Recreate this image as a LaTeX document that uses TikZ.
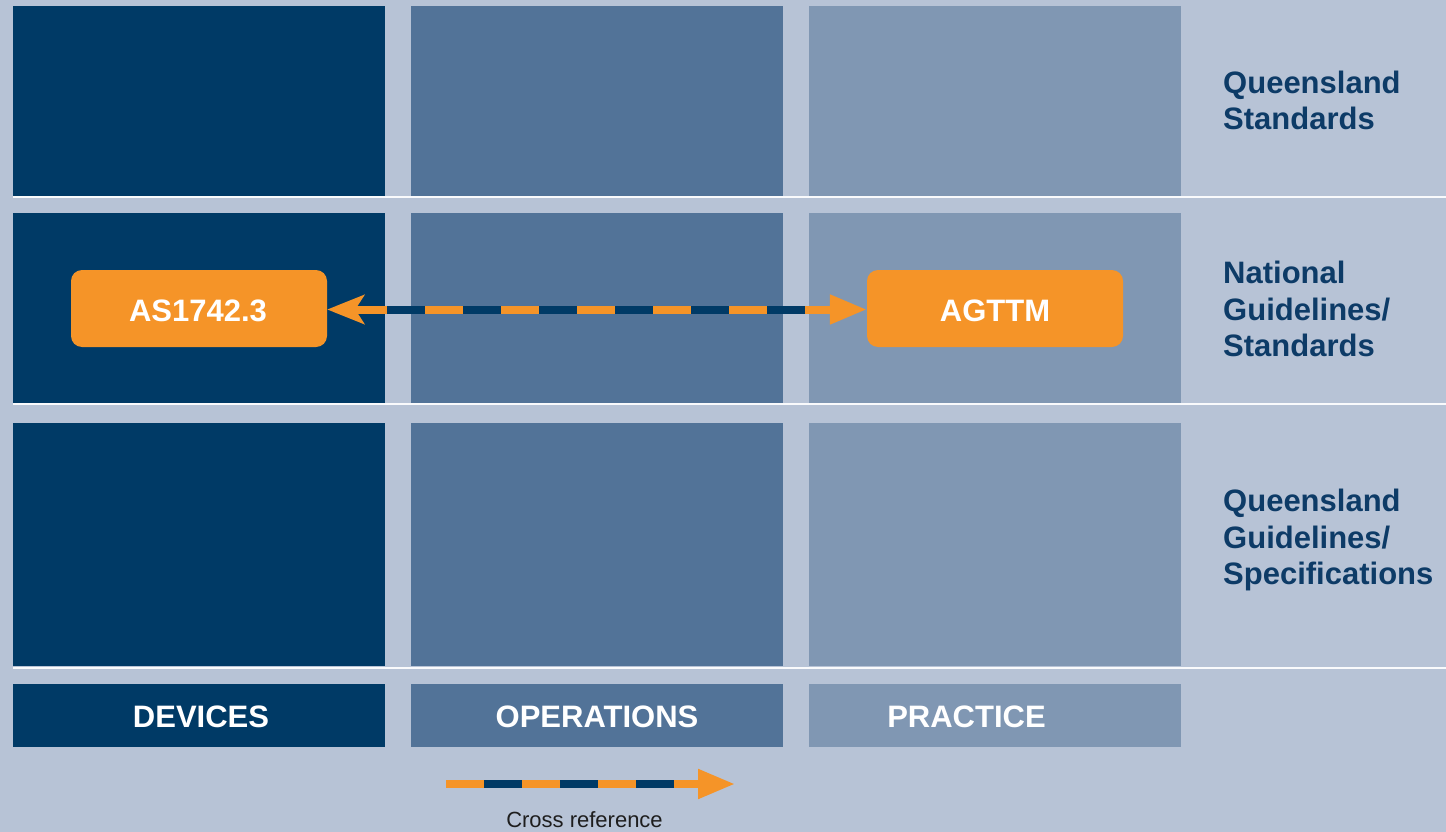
\documentclass[tikz,border=0pt]{standalone}
\usepackage{fontspec}
\setmainfont{Liberation Sans}
\usetikzlibrary{arrows.meta}
\definecolor{bgc}{HTML}{B7C3D6}
\definecolor{darkc}{HTML}{003A66}
\definecolor{midc}{HTML}{527398}
\definecolor{lightc}{HTML}{8097B3}
\definecolor{orangec}{HTML}{F59428}
\definecolor{labc}{HTML}{0D3B67}
\definecolor{legc}{HTML}{1E1E1E}
\tikzset{
  sep/.style={draw=white!92!bgc, line width=2pt},
  stdbox/.style={fill=orangec, rounded corners=11pt, minimum width=256pt, minimum height=77pt, inner sep=0pt},
  boldw/.style={text=white, font=\bfseries\fontsize{31}{36}\selectfont, inner sep=0pt},
  rlab/.style={text=labc, font=\bfseries\fontsize{31}{36}\selectfont, inner sep=0pt, anchor=base west},
  xref/.style={draw=orangec, line width=8pt},
  xdash/.style={draw=darkc, line width=8pt, dash pattern=on 38pt off 38pt},
}
\begin{document}
\begin{tikzpicture}[x=1pt,y=-1pt]
\fill[bgc] (0,0) rectangle (1446,832);
\useasboundingbox (0,0) rectangle (1446,832);
% grid cells
\foreach \ya/\yb in {6/195.5,213/402.5,423/666}{
  \fill[darkc] (13,\ya) rectangle (385,\yb);
  \fill[midc] (411,\ya) rectangle (783,\yb);
  \fill[lightc] (809,\ya) rectangle (1181,\yb);
}
% separators
\foreach \y in {197.2,404.2,668}{
  \draw[sep] (13,\y) -- (1446,\y);
}
% bottom category boxes
\fill[darkc] (13,684) rectangle (385,747);
\fill[midc] (411,684) rectangle (783,747);
\fill[lightc] (809,684) rectangle (1181,747);
\node[boldw, anchor=base] (dev) at (201,727) {DEVICES};
\node[boldw, anchor=base] (ops) at (597,727) {OPERATIONS};
\node[boldw, anchor=base] (pra) at (966.5,727) {PRACTICE};
% right labels
\node[rlab] (q1) at (1223,94) {Queensland};
\node[rlab] (q2) at (1223,130) {Standards};
\node[rlab] (n1) at (1223,283.5) {National};
\node[rlab] (n2) at (1223,320) {Guidelines/};
\node[rlab] (n3) at (1223,356.5) {Standards};
\node[rlab] (g1) at (1223,511.5) {Queensland};
\node[rlab] (g2) at (1223,548) {Guidelines/};
\node[rlab] (g3) at (1223,584.5) {Specifications};
% standard boxes
\node[stdbox] (as) at (199,308.5) {};
\node[boldw, anchor=base] (astext) at (198,321.5) {AS1742.3};
\node[stdbox] (ag) at (995,308.5) {};
\node[boldw, anchor=base] (agtext) at (995,321.5) {AGTTM};
% cross-reference arrow
\draw[xref, {Stealth[length=37pt,width=29pt,inset=9pt]}-{Triangle[length=37pt,width=28pt]}] ([yshift=-1pt]as.east) -- ([yshift=-1pt]ag.west);
\coordinate (d1) at (387,309.5);
\coordinate (d2) at (805,309.5);
\draw[xdash] (d1) -- (d2);
% legend
\coordinate (l0) at (446,784);
\coordinate (l1) at (735,784);
\draw[xref, -{Triangle[length=37pt,width=28pt]}] (l0) -- (l1);
\coordinate (ld1) at (484,784);
\coordinate (ld2) at (674,784);
\draw[xdash] (ld1) -- (ld2);
\node[text=legc, font=\fontsize{22}{25}\selectfont, inner sep=0pt, anchor=base] (legtext) at (584.5,827.5) {Cross reference};
\end{tikzpicture}
\end{document}
